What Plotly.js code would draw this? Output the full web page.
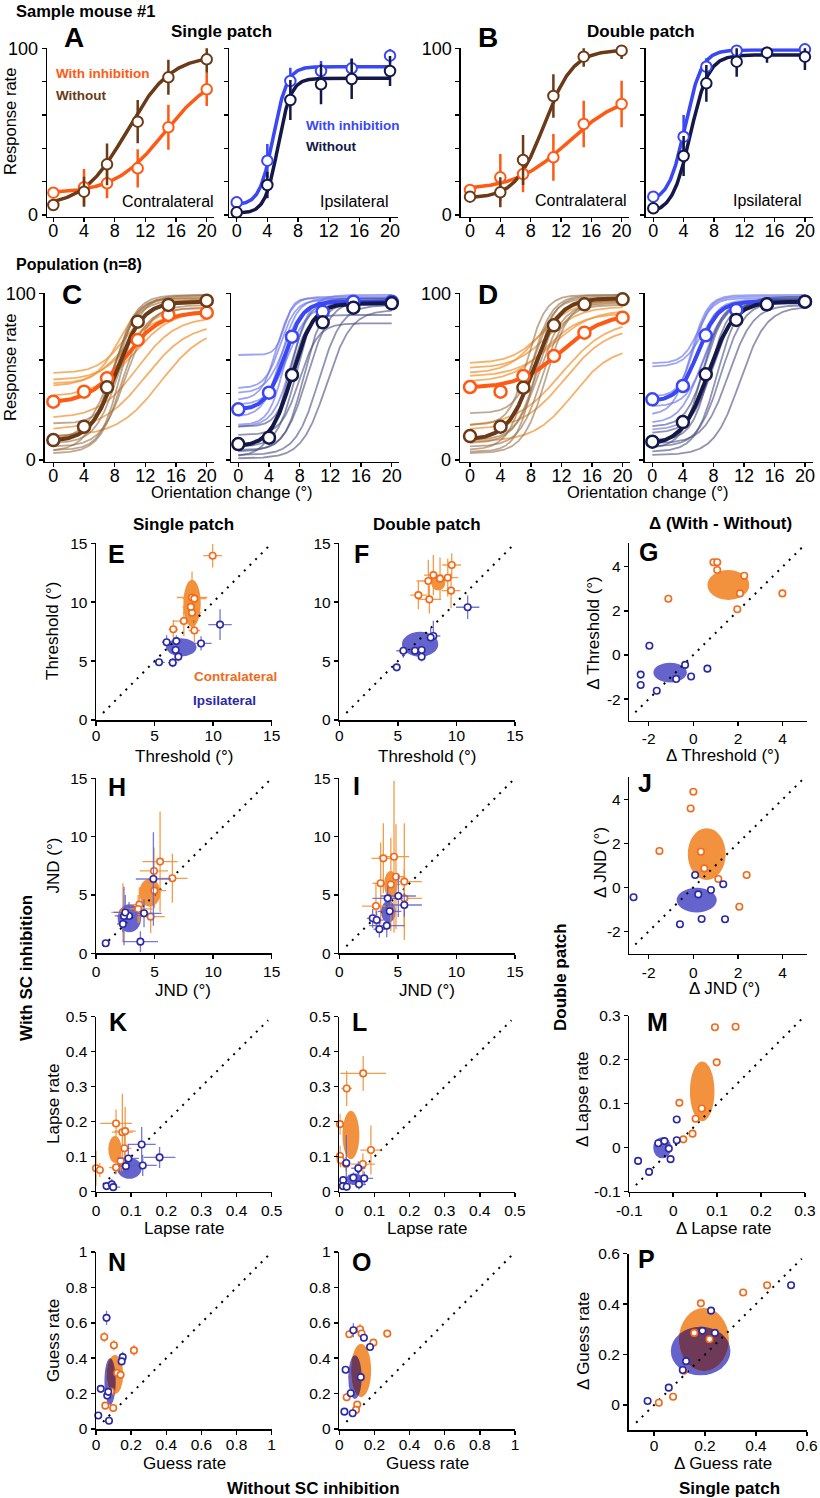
<!DOCTYPE html>
<html><head><meta charset="utf-8">
<script src="https://cdn.plot.ly/plotly-3.0.1.min.js"></script>
<style>
html,body{margin:0;padding:0;background:#fff;}
#plot{width:820px;height:1498px;}
</style>
</head><body><div id="plot"></div>
<script>
const FONT = '"Liberation Sans", Arial, Helvetica, sans-serif';
const W = 820, H = 1498;

// ================= DATA =================
const orientation = [0, 4, 7, 11, 15, 20];
const orientTicks = [0, 4, 8, 12, 16, 20];
const rateTicks = [0, 20, 40, 60, 80, 100];

// --- Sample mouse #1: response rate (%) and error (+/-)
const smSingleContraWith = [13.4, 16.6, 19.0, 28.0, 52.6, 75.4];
const smSingleContraWithErr = [2, 11, 9, 11.5, 13.5, 10];
const smSingleContraWithout = [6.0, 14.0, 30.4, 56.0, 82.6, 93.4];
const smSingleContraWithoutErr = [2, 9, 12.5, 13, 10.5, 8];
const smSingleIpsiWith = [7.6, 32.6, 80.4, 86.4, 88.0, 95.6];
const smSingleIpsiWithErr = [2, 10, 8, 6, 6, 4];
const smSingleIpsiWithout = [1.6, 18.0, 69.0, 78.4, 81.6, 86.4];
const smSingleIpsiWithoutErr = [2, 8, 12, 12, 12, 9];
const smDoubleContraWith = [15.0, 22.6, 24.6, 34.6, 54.6, 66.6];
const smDoubleContraWithErr = [3, 14, 11, 14, 14, 14];
const smDoubleContraWithout = [11.0, 13.6, 33.0, 71.4, 95.0, 98.6];
const smDoubleContraWithoutErr = [2, 9, 15, 13, 6, 5];
const smDoubleIpsiWith = [11.0, 47.0, 89.0, 98.6, 97.4, 99.4];
const smDoubleIpsiWithErr = [2, 13, 5, 4, 3, 3];
const smDoubleIpsiWithout = [4.0, 35.4, 79.0, 92.0, 97.4, 95.0];
const smDoubleIpsiWithoutErr = [2, 12, 11, 9, 6, 8];

// fitted psychometric curves: [guess, asymptote, threshold, slope]
const smFitSingleContraWith = [0.13, 0.86, 14.5, 3.2];
const smFitSingleContraWithout = [0.05, 0.96, 9.6, 2.86];
const smFitSingleIpsiWith = [0.06, 0.89, 4.8, 0.9];
const smFitSingleIpsiWithout = [0.01, 0.82, 5.4, 0.85];
const smFitDoubleContraWith = [0.15, 0.73, 13.0, 3.5];
const smFitDoubleContraWithout = [0.10, 0.99, 9.8, 1.9];
const smFitDoubleIpsiWith = [0.08, 0.99, 4.2, 1.1];
const smFitDoubleIpsiWithout = [0.01, 0.96, 4.9, 1.2];

// --- Population (n=8): mean response rate (%)
const popSingleContraWith = [35, 41, 49, 72, 87, 88.4];
const popSingleContraWithout = [12, 20, 43.6, 83, 93, 95.6];
const popSingleIpsiWith = [30.4, 40.4, 74, 89, 95, 95];
const popSingleIpsiWithout = [9.6, 13.4, 51, 82.6, 91.4, 94];
const popDoubleContraWith = [43.8, 41, 50.4, 62.4, 76.4, 85.4];
const popDoubleContraWithout = [14.4, 20, 43.4, 80.8, 93.4, 96.4];
const popDoubleIpsiWith = [36.4, 44.4, 74.8, 90, 93.4, 95];
const popDoubleIpsiWithout = [11, 22.8, 51.4, 84, 93.4, 95];
const popErr = [2, 3, 2.5, 3, 2, 2];

const popFitSingleContraWith = [0.34, 0.89, 9.3, 2.3];
const popFitSingleContraWithout = [0.11, 0.95, 8.2, 1.7];
const popFitSingleIpsiWith = [0.30, 0.95, 6.0, 1.2];
const popFitSingleIpsiWithout = [0.08, 0.94, 7.0, 1.4];
const popFitDoubleContraWith = [0.43, 0.88, 12.0, 2.8];
const popFitDoubleContraWithout = [0.12, 0.97, 8.3, 1.7];
const popFitDoubleIpsiWith = [0.35, 0.95, 6.0, 1.3];
const popFitDoubleIpsiWithout = [0.09, 0.95, 7.3, 1.7];

// individual mouse fits [guess, asymptote, threshold, slope]
const indSingleContraWith = [[0.52,0.96,9.5,1.8],[0.48,0.92,10,2.0],[0.46,0.97,8.5,1.5],[0.44,0.88,9,2.2],[0.38,0.90,10.5,2.5],[0.25,0.86,11,2.5],[0.18,0.82,12,2.8],[0.14,0.80,14,2.8]];
const indSingleContraWithout = [[0.22,0.97,8.5,1.2],[0.14,0.99,8,1.4],[0.10,0.95,8.5,1.5],[0.08,0.93,9.5,1.6],[0.06,0.98,8.8,1.3],[0.05,0.96,7.5,1.6],[0.04,0.91,9,1.5],[0.12,0.99,7.8,1.7]];
const indSingleIpsiWith = [[0.63,0.97,6,0.6],[0.43,0.96,5.5,1.0],[0.40,0.95,6,1.2],[0.36,0.98,5,1.0],[0.33,0.93,6.5,1.3],[0.26,0.97,5.5,1.1],[0.21,0.94,6,1.0],[0.20,0.99,7,1.2]];
const indSingleIpsiWithout = [[0.20,0.87,7,1.0],[0.15,0.82,8,1.2],[0.08,0.95,7.5,1.2],[0.05,0.96,9,1.5],[0.03,0.93,10.5,1.5],[0.02,0.97,6.5,1.3],[0.01,0.90,11.5,1.6],[0.06,0.94,8.5,1.2]];
const indDoubleContraWith = [[0.58,0.95,9.5,2.0],[0.55,0.92,10,2.2],[0.52,0.97,9,2.0],[0.50,0.90,11,2.5],[0.47,0.88,10,2.3],[0.20,0.84,12,3.0],[0.18,0.80,12.5,2.8],[0.11,0.68,13.5,2.5]];
const indDoubleContraWithout = [[0.28,0.97,8.5,1.3],[0.21,0.99,7.5,1.2],[0.12,0.95,8.8,1.4],[0.08,0.93,9.5,1.5],[0.05,0.98,8.5,1.2],[0.04,0.96,10,1.5],[0.06,0.99,7.8,1.4],[0.10,0.94,9,1.6]];
const indDoubleIpsiWith = [[0.58,0.97,6,1.0],[0.56,0.95,6.5,1.2],[0.38,0.98,5.5,1.0],[0.35,0.96,6,1.2],[0.32,0.94,7,1.3],[0.27,0.99,5,1.1],[0.22,0.95,6.5,1.4],[0.18,0.97,8,1.5]];
const indDoubleIpsiWithout = [[0.20,0.96,7,1.3],[0.16,0.97,8,1.5],[0.12,0.94,7.5,1.2],[0.08,0.95,9,1.5],[0.05,0.98,8.5,1.4],[0.03,0.92,11.5,1.7],[0.07,0.96,6.5,1.3],[0.10,0.93,10,1.6]];

// --- Per-mouse parameters: [without, with, xErr, yErr]
const thrSingleContra = [[9.96,13.95,0.8,1.0],[8.2,10.4,1.3,2.2],[8.4,10.3,1.0,1.5],[8.2,9.1,0.8,1.5],[7.5,8.4,0.9,1.3],[6.6,7.7,0.4,0.8],[8.4,7.6,0.5,1.0],[8.1,9.6,0.7,1.2]];
const thrSingleIpsi = [[6.03,6.6,0.4,0.6],[6.86,6.7,0.4,0.5],[6.8,5.94,0.3,0.5],[7.03,5.38,0.3,0.4],[6.55,4.87,0.4,0.4],[5.38,4.9,0.5,0.3],[8.97,6.5,0.9,0.6],[10.59,8.1,1.0,1.3]];
const thrDoubleContra = [[7.6,11.8,1.0,1.8],[8.03,12.3,0.8,1.7],[9.26,12.08,0.9,1.6],[9.6,13.16,0.8,1.0],[6.75,10.6,0.7,1.2],[7.69,10.24,1.0,1.2],[9.54,10.98,0.8,1.5],[8.6,12.0,0.8,1.8]];
const thrDoubleIpsi = [[4.9,4.47,0.3,0.3],[5.47,5.88,0.6,0.6],[6.46,5.88,0.4,0.4],[7.03,5.94,0.4,0.5],[7.03,5.37,0.3,0.4],[8.03,7.13,0.6,1.3],[7.8,7.0,0.5,0.8],[10.96,9.57,1.0,1.0]];
const thrDeltaContra = [[0.9,4.2],[1.07,4.2],[1.07,3.85],[2.28,3.59],[2.09,2.79],[1.97,2.07],[3.99,2.79],[-1.12,2.55]];
const thrDeltaIpsi = [[-1.97,0.42],[-2.36,-0.89],[-2.36,-1.36],[-1.64,-1.62],[-0.77,-1.09],[-0.37,-0.45],[-0.1,-0.98],[0.63,-0.62]];

const jndSingleContra = [[5.47,7.86,1.5,4.3],[4.95,7.06,1.2,2.0],[6.52,6.43,1.3,2.1],[4.98,5.37,1.0,1.5],[3.7,4.17,0.9,1.5],[3.6,3.8,1.2,1.2],[4.67,3.14,1.2,1.4],[2.3,3.5,1.0,2.5]];
const jndSingleIpsi = [[4.9,6.37,1.5,4.0],[4.1,3.43,1.5,1.2],[2.82,3.2,1.0,1.2],[2.39,3.2,0.8,2.5],[2.3,2.51,0.5,0.7],[3.79,1.0,1.5,0.9],[0.83,0.86,0.3,0.2],[2.5,3.5,1.0,1.5]];
const jndDoubleContra = [[3.76,8.14,1.0,3.0],[4.67,8.28,1.3,6.5],[4.84,6.56,0.8,4.5],[3.53,6.0,0.7,3.5],[5.55,6.14,1.5,5.0],[3.13,4.05,1.2,2.0],[5.55,4.71,1.5,2.5],[4.4,5.9,0.8,4.0]];
const jndDoubleIpsi = [[4.13,4.71,1.3,1.0],[5.04,4.91,1.5,1.8],[5.55,4.14,1.5,1.0],[2.85,3.0,0.5,0.8],[3.19,2.85,0.6,0.8],[3.42,2.06,0.5,0.7],[4.05,2.37,1.5,1.0],[4.3,3.6,1.0,1.5]];
const jndDeltaContra = [[0,4.34],[-0.12,3.58],[-1.52,1.65],[0.34,1.62],[0.49,0.86],[1.12,0.38],[2.39,0.56],[2.06,-0.88]];
const jndDeltaIpsi = [[-2.68,-0.45],[0.08,0.56],[0.22,-0.32],[0.79,-0.12],[1.34,0.14],[-0.6,-1.68],[0.37,-1.44],[1.42,-1.45]];

const lapseSingleContra = [[0.057,0.195,0.045,0.04],[0.075,0.17,0.03,0.11],[0.083,0.173,0.03,0.07],[0.081,0.124,0.02,0.05],[0.0,0.067,0.01,0.05],[0.011,0.062,0.01,0.02],[0.07,0.088,0.02,0.03],[0.057,0.069,0.02,0.02]];
const lapseSingleIpsi = [[0.13,0.135,0.04,0.05],[0.181,0.098,0.045,0.03],[0.092,0.095,0.03,0.04],[0.085,0.073,0.02,0.02],[0.133,0.075,0.04,0.03],[0.03,0.016,0.01,0.01],[0.045,0.021,0.015,0.015],[0.049,0.013,0.02,0.01]];
const lapseDoubleContra = [[0.002,0.193,0.005,0.03],[0.021,0.295,0.015,0.05],[0.068,0.338,0.065,0.05],[0.002,0.102,0.005,0.03],[0.004,0.09,0.005,0.02],[0.019,0.079,0.01,0.02],[0.09,0.119,0.03,0.07],[0.067,0.079,0.035,0.03]];
const lapseDoubleIpsi = [[0.054,0.067,0.02,0.02],[0.071,0.038,0.025,0.02],[0.011,0.033,0.01,0.01],[0.01,0.016,0.01,0.01],[0.021,0.014,0.01,0.01],[0.056,0.021,0.02,0.015],[0.02,0.082,0.01,0.08],[0.04,0.04,0.015,0.015]];
const lapseDeltaContra = [[0.099,0.194],[0.095,0.274],[0.142,0.275],[0.014,0.102],[0.065,0.089],[0.051,0.066],[0.044,0.032],[0.023,0.019]];
const lapseDeltaIpsi = [[0.008,0.064],[0.008,0.017],[-0.034,0.01],[-0.02,0.015],[-0.01,-0.002],[-0.006,-0.026],[-0.08,-0.03],[-0.055,-0.055]];

const guessSingleContra = [[0.047,0.52,0.015,0.03],[0.102,0.473,0.01,0.03],[0.216,0.444,0.015,0.03],[0.121,0.316,0.02,0.02],[0.14,0.306,0.02,0.02],[0.085,0.212,0.01,0.02],[0.053,0.132,0.01,0.02],[0.098,0.119,0.01,0.02]];
const guessSingleIpsi = [[0.06,0.628,0.01,0.04],[0.152,0.406,0.015,0.03],[0.146,0.382,0.01,0.02],[0.027,0.227,0.01,0.02],[0.064,0.189,0.01,0.02],[0.07,0.21,0.01,0.02],[0.013,0.076,0.005,0.01],[0.074,0.047,0.005,0.02]];
const guessDoubleContra = [[0.057,0.535,0.015,0.02],[0.118,0.564,0.01,0.03],[0.127,0.54,0.01,0.02],[0.194,0.488,0.02,0.02],[0.273,0.539,0.02,0.02],[0.042,0.179,0.01,0.02],[0.102,0.138,0.01,0.02],[0.095,0.108,0.01,0.02]];
const guessDoubleIpsi = [[0.08,0.558,0.01,0.04],[0.14,0.516,0.01,0.02],[0.175,0.463,0.01,0.02],[0.036,0.335,0.01,0.02],[0.065,0.202,0.01,0.02],[0.029,0.098,0.005,0.01],[0.076,0.089,0.005,0.01],[0.122,0.293,0.02,0.02]];
const guessDeltaContra = [[0.184,0.403],[0.35,0.446],[0.444,0.475],[0.158,0.286],[0.218,0.261],[0.117,0.136],[0.075,0.033],[0.019,0.009]];
const guessDeltaIpsi = [[0.538,0.475],[0.224,0.374],[0.19,0.294],[0.239,0.286],[0.126,0.174],[0.113,0.139],[0.058,0.069],[-0.025,0.016]];

// population ellipses: [centerX, centerY, radiusX, radiusY] for [contra, ipsi]
const ellThrSingle = [[8.2,9.9,0.74,2.0],[7.3,6.17,1.28,0.77]];
const ellThrDouble = [[8.45,11.66,0.6,0.66],[6.9,6.43,1.55,1.06]];
const ellThrDelta = [[1.57,3.17,0.94,0.68],[-1.04,-0.8,0.75,0.45]];
const ellJndSingle = [[4.6,5.2,0.9,1.2],[2.85,3.0,1.0,1.2]];
const ellJndDouble = [[4.39,5.91,0.57,1.14],[4.19,3.57,0.63,0.94]];
const ellJndDelta = [[0.6,1.51,0.85,1.18],[0.15,-0.58,0.9,0.56]];
const ellLapseSingle = [[0.054,0.121,0.019,0.038],[0.095,0.067,0.035,0.03]];
const ellLapseDouble = [[0.033,0.162,0.024,0.069],[0.043,0.036,0.024,0.017]];
const ellLapseDelta = [[0.066,0.128,0.028,0.068],[-0.025,0.0,0.0205,0.024]];
const ellGuessSingle = [[0.108,0.308,0.047,0.11],[0.08,0.268,0.032,0.132]];
const ellGuessDouble = [[0.124,0.331,0.057,0.151],[0.089,0.293,0.038,0.123]];
const ellGuessDelta = [[0.196,0.26,0.098,0.125],[0.183,0.214,0.117,0.096]];

// ================= STYLE =================
const C_OR = '#ff5a14', C_BR = '#6b3a17', C_BL = '#3a47f5', C_NV = '#141848';
const T_OR = 'rgba(244,150,55,0.75)', T_BR = 'rgba(150,110,70,0.6)', T_BL = 'rgba(105,115,235,0.65)', T_NV = 'rgba(70,75,125,0.6)';
const S_OR = '#f26a1b', S_OR_E = 'rgba(243,145,55,0.9)', S_BL = '#2b29a6', S_BL_E = 'rgba(95,95,205,0.85)';
const E_OR = '#f2923e', E_BL = '#6464cc', E_MIX = '#6e3a57';

const subs = [];
function sub(px0,px1,py0,py1,xr,yr,xt,yt,fs,sx){ subs.push({px0,px1,py0,py1,xr,yr,xt,yt,fs,sx}); return subs.length; }
const lbl = v => v.map(String);
const rateLeft = [rateTicks, ['0','','','','','100']];
const rateRight = [rateTicks, ['','','','','','']];
const oT = [orientTicks, lbl(orientTicks)];
const t15 = [[0,5,10,15], ['0','5','10','15']];
const tD = [[-2,0,2,4], ['-2','0','2','4']];
const t05 = [[0,0.1,0.2,0.3,0.4,0.5], ['0','0.1','0.2','0.3','0.4','0.5']];
const tM = [[-0.1,0,0.1,0.2,0.3], ['-0.1','0','0.1','0.2','0.3']];
const t1 = [[0,0.2,0.4,0.6,0.8,1], ['0','0.2','0.4','0.6','0.8','1']];
const tP = [[0,0.2,0.4,0.6], ['0','0.2','0.4','0.6']];

// curve subplots
const aL = sub(47.2,214.4,48.3,216.7,[-0.8,21],[-1,100],oT,rateLeft,18,-7);
const aR = sub(229,397.7,48.3,216.7,[-1,21],[-1,100],oT,rateRight,18,-7);
const bL = sub(460.9,629.2,48.3,216.7,[-1.2,21],[-1,100],oT,rateLeft,18,-7);
const bR = sub(645.7,812.5,48.3,216.7,[-1,21],[-1,100],oT,rateRight,18,-7);
const cL = sub(44.9,214.4,293.3,461.7,[-1.1,21],[-1,100],oT,rateLeft,18,-7);
const cR = sub(231.4,399.4,293.3,461.7,[-0.9,21],[-1,100],oT,rateRight,18,-7);
const dL = sub(460.1,630.2,293.3,461.7,[-1.3,21],[-1,100],oT,rateLeft,18,-7);
const dR = sub(644.7,812.6,293.3,461.7,[-1,21],[-1,100],oT,rateRight,18,-7);
// scatter subplots
const pE = sub(96,271.7,543.3,720,[0,15.001],[0,15.001],t15,t15,15.5,-3);
const pF = sub(339.3,515,543.3,720,[0,15.001],[0,15.001],t15,t15,15.5,-3);
const pG = sub(629.3,806.7,543.3,720.7,[-2.87,5.08],[-2.98,5.06],tD,tD,15.5,-1);
const pH = sub(96,271.7,778.3,953.3,[0,15.001],[0,15.001],t15,t15,15.5,0);
const pI = sub(339.3,515,778.3,953.3,[0,15.001],[0,15.001],t15,t15,15.5,0);
const pJ = sub(629.3,806.7,777.3,953.8,[-2.87,5.08],[-3.02,5],tD,tD,15.5,0);
const pK = sub(96,271.7,1016.7,1191.7,[0,0.5001],[0,0.5001],t05,t05,15.5,0);
const pL = sub(339.3,515,1016.7,1191.7,[0,0.5001],[0,0.5001],t05,t05,15.5,0);
const pM = sub(629.3,805,1015.7,1191.7,[-0.1,0.3001],[-0.1,0.3001],tM,tM,15.5,0);
const pN = sub(96,271.7,1252,1429,[0,1.0001],[0,1.0001],t1,t1,15.5,-3);
const pO = sub(339.3,515,1252,1429,[0,1.0001],[0,1.0001],t1,t1,15.5,-3);
const pP = sub(628.5,807,1253.5,1430.3,[-0.1,0.6005],[-0.1,0.6005],tP,tP,15.5,-3);

const ax = i => (i === 1 ? '' : String(i));
const layout = {width:W, height:H, margin:{l:0,r:0,t:0,b:0}, showlegend:false,
  paper_bgcolor:'#ffffff', plot_bgcolor:'rgba(0,0,0,0)', font:{family:FONT,color:'#000'},
  annotations:[], shapes:[]};
subs.forEach((s,k)=>{
  const i = ax(k+1);
  const base = {showline:true, linecolor:'#000', linewidth:1.5, ticks:'outside', ticklen:4, tickwidth:1.5,
    tickcolor:'#000', showgrid:false, zeroline:false, fixedrange:true, automargin:false,
    tickfont:{family:FONT,size:s.fs,color:'#000'}};
  layout['xaxis'+i] = Object.assign({}, base, {domain:[s.px0/W, s.px1/W], range:s.xr, anchor:'y'+i,
    tickmode:'array', tickvals:s.xt[0], ticktext:s.xt[1], ticklabelstandoff:s.sx});
  layout['yaxis'+i] = Object.assign({}, base, {domain:[1-s.py1/H, 1-s.py0/H], range:s.yr, anchor:'x'+i,
    tickmode:'array', tickvals:s.yt[0], ticktext:s.yt[1]});
});

// ================= TRACES =================
const traces = [];
const grid = Array.from({length:201}, (_,i)=>i*0.1);
function fitY(p){ return grid.map(x => 100*(p[0] + (p[1]-p[0])/(1+Math.exp(-(x-p[2])/p[3])))); }
function fitLine(i,p,color,w){ traces.push({x:grid, y:fitY(p), mode:'lines', line:{color, width:w},
  xaxis:'x'+ax(i), yaxis:'y'+ax(i), hoverinfo:'skip'}); }
function meanPts(i,ys,err,color,size,lw){ traces.push({x:orientation, y:ys, mode:'markers', cliponaxis:false,
  marker:{size, color:'#fff', line:{color, width:lw}},
  error_y:{type:'data', array:err, visible:true, width:0, thickness:2.5, color},
  xaxis:'x'+ax(i), yaxis:'y'+ax(i), hoverinfo:'skip'}); }

const samplePanels = [
  [aL, smSingleContraWith, smSingleContraWithErr, smFitSingleContraWith, smSingleContraWithout, smSingleContraWithoutErr, smFitSingleContraWithout, C_OR, C_BR],
  [aR, smSingleIpsiWith, smSingleIpsiWithErr, smFitSingleIpsiWith, smSingleIpsiWithout, smSingleIpsiWithoutErr, smFitSingleIpsiWithout, C_BL, C_NV],
  [bL, smDoubleContraWith, smDoubleContraWithErr, smFitDoubleContraWith, smDoubleContraWithout, smDoubleContraWithoutErr, smFitDoubleContraWithout, C_OR, C_BR],
  [bR, smDoubleIpsiWith, smDoubleIpsiWithErr, smFitDoubleIpsiWith, smDoubleIpsiWithout, smDoubleIpsiWithoutErr, smFitDoubleIpsiWithout, C_BL, C_NV]
];
samplePanels.forEach(p=>{
  fitLine(p[0], p[3], p[7], 3.5);
  fitLine(p[0], p[6], p[8], 3.5);
  meanPts(p[0], p[1], p[2], p[7], 10.5, 2);
  meanPts(p[0], p[4], p[5], p[8], 10.5, 2);
});

const popPanels = [
  [cL, popSingleContraWith, popFitSingleContraWith, indSingleContraWith, popSingleContraWithout, popFitSingleContraWithout, indSingleContraWithout, C_OR, C_BR, T_OR, T_BR],
  [cR, popSingleIpsiWith, popFitSingleIpsiWith, indSingleIpsiWith, popSingleIpsiWithout, popFitSingleIpsiWithout, indSingleIpsiWithout, C_BL, C_NV, T_BL, T_NV],
  [dL, popDoubleContraWith, popFitDoubleContraWith, indDoubleContraWith, popDoubleContraWithout, popFitDoubleContraWithout, indDoubleContraWithout, C_OR, C_BR, T_OR, T_BR],
  [dR, popDoubleIpsiWith, popFitDoubleIpsiWith, indDoubleIpsiWith, popDoubleIpsiWithout, popFitDoubleIpsiWithout, indDoubleIpsiWithout, C_BL, C_NV, T_BL, T_NV]
];
popPanels.forEach(p=>{
  p[3].forEach(q=>fitLine(p[0], q, p[9], 1.8));
  p[6].forEach(q=>fitLine(p[0], q, p[10], 1.8));
  fitLine(p[0], p[2], p[7], 4);
  fitLine(p[0], p[5], p[8], 4);
  meanPts(p[0], p[1], popErr, p[7], 12, 2.5);
  meanPts(p[0], p[4], popErr, p[8], 12, 2.5);
});

function scat(i, arr, color, ecolor){
  const t = {x:arr.map(d=>d[0]), y:arr.map(d=>d[1]), mode:'markers', cliponaxis:false,
    marker:{size:6.5, color:'#fff', line:{color, width:1.6}}, xaxis:'x'+ax(i), yaxis:'y'+ax(i), hoverinfo:'skip'};
  if (arr[0].length > 2){
    t.error_x = {type:'data', array:arr.map(d=>d[2]), visible:true, width:0, thickness:1.3, color:ecolor};
    t.error_y = {type:'data', array:arr.map(d=>d[3]), visible:true, width:0, thickness:1.3, color:ecolor};
  }
  traces.push(t);
}
function ell(i, e, color){
  layout.shapes.push({type:'circle', xref:'x'+ax(i), yref:'y'+ax(i), x0:e[0]-e[2], x1:e[0]+e[2],
    y0:e[1]-e[3], y1:e[1]+e[3], fillcolor:color, line:{width:0}, layer:'below'});
}
// darker region where the two population ellipses overlap (multiplied colours)
function overlap(i, a, b){
  const inside = (e,x,y) => ((x-e[0])/e[2])**2 + ((y-e[1])/e[3])**2 <= 1;
  const pts = [];
  for (let k=0; k<360; k++){
    const t = k*Math.PI/180;
    const x1 = a[0]+a[2]*Math.cos(t), y1 = a[1]+a[3]*Math.sin(t);
    if (inside(b,x1,y1)) pts.push([x1,y1]);
    const x2 = b[0]+b[2]*Math.cos(t), y2 = b[1]+b[3]*Math.sin(t);
    if (inside(a,x2,y2)) pts.push([x2,y2]);
  }
  if (pts.length < 3) return;
  const sx = Math.min(a[2],b[2]), sy = Math.min(a[3],b[3]);
  const cx = pts.reduce((s,p)=>s+p[0],0)/pts.length, cy = pts.reduce((s,p)=>s+p[1],0)/pts.length;
  const ang = p => Math.atan2((p[1]-cy)/sy, (p[0]-cx)/sx);
  pts.sort((p,q)=>ang(p)-ang(q));
  layout.shapes.push({type:'path', xref:'x'+ax(i), yref:'y'+ax(i),
    path:'M'+pts.map(p=>p[0]+','+p[1]).join('L')+'Z', fillcolor:E_MIX, line:{width:0}, layer:'below'});
}
const scatterPanels = [
  [pE, thrSingleContra, thrSingleIpsi, ellThrSingle, [0.6,14.8]],
  [pF, thrDoubleContra, thrDoubleIpsi, ellThrDouble, [0.6,14.8]],
  [pG, thrDeltaContra, thrDeltaIpsi, ellThrDelta, [-2.6,4.9]],
  [pH, jndSingleContra, jndSingleIpsi, ellJndSingle, [0.6,14.8]],
  [pI, jndDoubleContra, jndDoubleIpsi, ellJndDouble, [0.6,14.8]],
  [pJ, jndDeltaContra, jndDeltaIpsi, ellJndDelta, [-2.6,4.9]],
  [pK, lapseSingleContra, lapseSingleIpsi, ellLapseSingle, [0.02,0.49]],
  [pL, lapseDoubleContra, lapseDoubleIpsi, ellLapseDouble, [0.02,0.49]],
  [pM, lapseDeltaContra, lapseDeltaIpsi, ellLapseDelta, [-0.085,0.3]],
  [pN, guessSingleContra, guessSingleIpsi, ellGuessSingle, [0.04,0.99]],
  [pO, guessDoubleContra, guessDoubleIpsi, ellGuessDouble, [0.04,0.99]],
  [pP, guessDeltaContra, guessDeltaIpsi, ellGuessDelta, [-0.07,0.58]]
];
scatterPanels.forEach(p=>{
  ell(p[0], p[3][1], E_BL);
  ell(p[0], p[3][0], E_OR);
  overlap(p[0], p[3][0], p[3][1]);
  traces.push({x:p[4], y:p[4], mode:'lines', line:{color:'#000', width:2, dash:'2px,6px'},
    xaxis:'x'+ax(p[0]), yaxis:'y'+ax(p[0]), hoverinfo:'skip'});
  scat(p[0], p[1], S_OR, S_OR_E);
  scat(p[0], p[2], S_BL, S_BL_E);
});

// ================= TEXT =================
function T(x,y,text,o){ o=o||{}; layout.annotations.push({xref:'paper', yref:'paper', x:x/W, y:1-y/H,
  text:o.b?'<b>'+text+'</b>':text, showarrow:false, xanchor:o.xa||'center', yanchor:'middle',
  textangle:o.rot||0, borderpad:0, font:{family:FONT, size:o.s||16, color:o.c||'#000'}}); }

T(15,11,'Sample mouse #1',{b:1,s:16.5,xa:'left'});
T(221,31,'Single patch',{b:1,s:17});
T(641,31,'Double patch',{b:1,s:17});
T(74,38,'A',{b:1,s:28}); T(488,38,'B',{b:1,s:28});
T(10,122,'Response rate',{s:16.5,rot:-90});
T(55,73,'With inhibition',{b:1,s:13.5,c:C_OR,xa:'left'});
T(55,96,'Without',{b:1,s:13.5,c:C_BR,xa:'left'});
T(305,125,'With inhibition',{b:1,s:13.5,c:C_BL,xa:'left'});
T(305,147,'Without',{b:1,s:13.5,c:C_NV,xa:'left'});
T(215,201,'Contralateral',{s:16,xa:'right'}); T(389,201,'Ipsilateral',{s:16,xa:'right'});
T(628,200,'Contralateral',{s:16,xa:'right'}); T(802,200,'Ipsilateral',{s:16,xa:'right'});
T(15,264,'Population (n=8)',{b:1,s:16,xa:'left'});
T(72,294,'C',{b:1,s:28}); T(488,294,'D',{b:1,s:28});
T(10,368,'Response rate',{s:16.5,rot:-90});
T(232,492,'Orientation change (°)',{s:16.5}); T(648,492,'Orientation change (°)',{s:16.5});

T(183.7,524,'Single patch',{b:1,s:17}); T(427,524,'Double patch',{b:1,s:17}); T(720,523,'Δ (With - Without)',{b:1,s:17});
[['E',116.7,554],['F',361.3,554],['G',648,552],['H',117,786.5],['I',356,786],['J',645,783],
 ['K',118,1021.7],['L',359,1021.7],['M',657,1021.7],['N',117,1261.7],['O',361.7,1261.7],['P',646,1259]]
 .forEach(l=>T(l[1],l[2],l[0],{b:1,s:25}));
T(235.5,676.7,'Contralateral',{b:1,s:13.5,c:S_OR}); T(224,700,'Ipsilateral',{b:1,s:13.5,c:S_BL});

T(53,631,'Threshold (°)',{s:17,rot:-90}); T(593.3,632.5,'Δ Threshold (°)',{s:17,rot:-90});
T(184,756.7,'Threshold (°)',{s:17}); T(427,756.7,'Threshold (°)',{s:17}); T(723.3,755,'Δ Threshold (°)',{s:17});
T(53,865.5,'JND (°)',{s:17,rot:-90}); T(600,863,'Δ JND (°)',{s:17,rot:-90});
T(183,990,'JND (°)',{s:17}); T(427,990,'JND (°)',{s:17}); T(724,988,'Δ JND (°)',{s:17});
T(53,1104,'Lapse rate',{s:17,rot:-90}); T(582,1100,'Δ Lapse rate',{s:17,rot:-90});
T(184,1228,'Lapse rate',{s:17}); T(427,1228,'Lapse rate',{s:17}); T(723,1228,'Δ Lapse rate',{s:17});
T(53,1341,'Guess rate',{s:17,rot:-90}); T(583,1341,'Δ Guess rate',{s:17,rot:-90});
T(184,1463,'Guess rate',{s:17}); T(427,1463,'Guess rate',{s:17}); T(723,1463,'Δ Guess rate',{s:17});
T(26,968,'With SC inhibition',{b:1,s:17,rot:-90}); T(560,977,'Double patch',{b:1,s:17,rot:-90});
T(313,1488,'Without SC inhibition',{b:1,s:17}); T(729,1488,'Single patch',{b:1,s:17});

Plotly.newPlot('plot', traces, layout, {staticPlot:true, displayModeBar:false});
</script></body></html>
